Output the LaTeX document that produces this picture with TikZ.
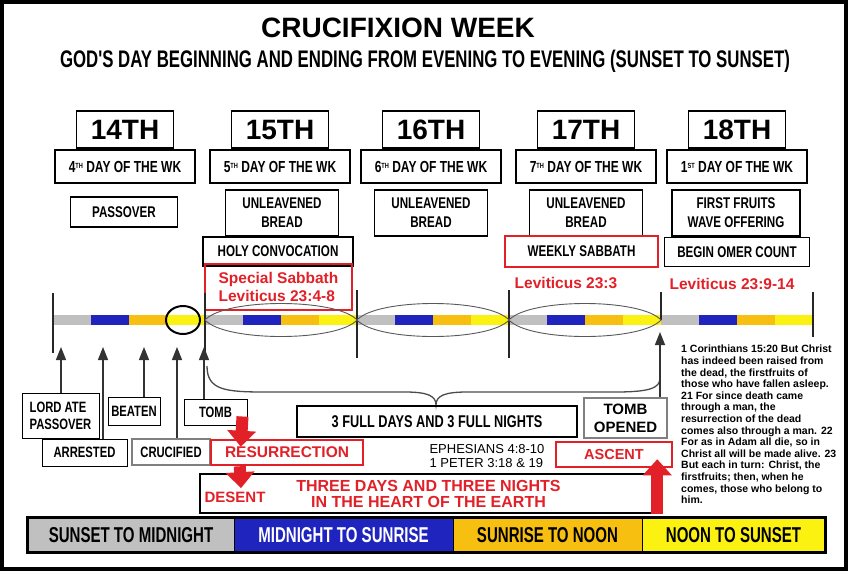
\documentclass[tikz,border=0pt]{standalone}
\usepackage{fontspec}
\setmainfont{Liberation Sans}
\newfontfamily\condfont[FakeStretch=0.75]{Liberation Sans}
\newfontfamily\narrowfont[FakeStretch=0.7]{Liberation Sans}
\usetikzlibrary{arrows.meta}

\definecolor{nightgray}{RGB}{192,192,192}
\definecolor{nightblue}{RGB}{32,36,190}
\definecolor{dawnorange}{RGB}{247,192,16}
\definecolor{noonyellow}{RGB}{252,242,18}
\definecolor{verse}{RGB}{226,32,40}

\newcommand\ordsfx[1]{\raisebox{4pt}{\fontsize{7.5}{7.5}\selectfont #1}}

\tikzset{
  daynum/.style={draw, line width=1.2pt, minimum width=97pt, minimum height=37pt, inner sep=0pt, font=\bfseries\fontsize{28}{28}\selectfont},
  wkday/.style={draw, line width=1.2pt, minimum width=140pt, minimum height=33pt, inner sep=0pt, font=\condfont\bfseries\fontsize{16}{16}\selectfont},
  feast/.style={draw, line width=1.2pt, align=center, inner sep=0pt, font=\condfont\bfseries\fontsize{15.5}{19}\selectfont},
  eventbox/.style={draw, line width=1pt, align=left, inner sep=0pt, font=\condfont\bfseries\fontsize{15}{17}\selectfont},
  redbox/.style={draw=verse, line width=2.5pt, inner sep=0pt},
  redtext/.style={text=verse, font=\bfseries\fontsize{15.5}{18}\selectfont},
  pointer/.style={draw=black!80, line width=1.4pt, -{Triangle[length=13pt,width=10pt]}},
  redarrow/.style={draw=verse, line width=12pt, -{Triangle[length=16pt,width=28pt]}},
  lens/.style={draw=black!65, line width=0.9pt},
  daytick/.style={draw=black!85, line width=1.8pt},
  legendkey/.style={draw, line width=1pt, minimum height=34pt, inner sep=0pt, font=\narrowfont\bfseries\fontsize{21.5}{21.5}\selectfont}
}

\begin{document}
\begin{tikzpicture}[x=1pt,y=-1pt]
  \useasboundingbox (0,0) rectangle (848,571);
  \fill[white] (0,0) rectangle (848,571);
  \draw[line width=4pt] (2,2) rectangle (846,569);
  % titles
  \node[font=\bfseries\fontsize{28}{28}\selectfont] (title) at (398,28) {CRUCIFIXION WEEK};
  \node[font=\narrowfont\bfseries\fontsize{24}{24}\selectfont] (subtitle) at (425,61)
    {GOD'S DAY BEGINNING AND ENDING FROM EVENING TO EVENING (SUNSET TO SUNSET)};
  % day headers
  \foreach \d/\x/\n/\sfx in {14/125/4/TH, 15/280/5/TH, 16/431/6/TH, 17/586/7/TH, 18/737/1/ST}{
    \node[daynum] (num\d) at (\x,129.5) {\d TH};
    \node[wkday] (wk\d) at (\x,166.5) {\n\ordsfx{\sfx} DAY OF THE WK};
  }
  \node[feast, minimum width=107pt, minimum height=30pt] (pass14) at (124,212) {PASSOVER};
  \foreach \d/\x in {15/282,16/431,17/586}
    \node[feast, minimum width=113pt, minimum height=46pt] (bread\d) at (\x,213) {UNLEAVENED\\BREAD};
  \node[feast, minimum width=128pt, minimum height=46pt] (fruit18) at (736,213) {FIRST FRUITS\\WAVE OFFERING};
  \node[feast, minimum width=150pt, minimum height=29pt] (holy15) at (278,251.5) {HOLY CONVOCATION};
  \node[feast, redbox, minimum width=153pt, minimum height=31pt] (sabb17) at (581.5,251.5) {WEEKLY SABBATH};
  \node[feast, minimum width=145pt, minimum height=29pt] (omer18) at (737,252) {BEGIN OMER COUNT};
  % verses
  \node[redbox, redtext, align=left, minimum width=147pt, minimum height=46pt] (lev48) at (278.5,287) {Special Sabbath\\Leviticus 23:4-8};
  \node[redtext] (lev3) at (566,283) {Leviticus 23:3};
  \node[redtext] (lev914) at (732,284) {Leviticus 23:9-14};
  % timeline
  \foreach \d in {0,...,4}
    \foreach \q/\c in {0/nightgray,1/nightblue,2/dawnorange,3/noonyellow}
      \fill[\c] ({53+152*\d+38*\q},315) rectangle ++(38,10);
  \foreach \x/\ya/\yb in {53/293/353,205/293/353,357/290/358,509/290/358,661/292/320,813/292/337}
    \draw[daytick] (\x,\ya) -- (\x,\yb);
  \foreach \d in {1,2,3}
    \draw[lens] ({53+152*\d},320) .. controls ({73+152*\d},298) and ({185+152*\d},298) .. ({205+152*\d},320)
      .. controls ({185+152*\d},342) and ({73+152*\d},342) .. cycle;
  \draw[line width=2pt] (183,320) ellipse [x radius=17, y radius=14];
  % events
  \coordinate (tLord) at (61,347);
  \coordinate (tArr) at (103,347);
  \coordinate (tBeat) at (144,347);
  \coordinate (tCruc) at (177,347);
  \coordinate (tTomb) at (204,347);
  \coordinate (tOpen) at (660,332);
  \node[eventbox, minimum width=77pt, minimum height=45pt] (lord) at (60.5,415.5) {LORD ATE\\PASSOVER};
  \node[eventbox, minimum width=85pt, minimum height=27pt] (arrest) at (84.5,452.5) {ARRESTED};
  \node[eventbox, minimum width=52pt, minimum height=28pt] (beaten) at (134,411) {BEATEN};
  \node[eventbox, draw=gray, line width=2.5pt, minimum width=78pt, minimum height=26pt] (cruc) at (171,452) {CRUCIFIED};
  \node[eventbox, minimum width=63pt, minimum height=26pt] (tomb) at (215.5,412) {TOMB};
  \foreach \b/\t in {lord/tLord, arrest/tArr, beaten/tBeat, cruc/tCruc, tomb/tTomb}
    \draw[pointer] (\b.north -| \t) -- (\t);
  % brace over the three days
  \draw[black!70, line width=1.3pt] (207,366) .. controls (207,390) and (225,392) .. (265,392) -- (405,392)
    .. controls (428,392) and (436,396) .. (436,405) .. controls (436,396) and (444,392) .. (467,392) -- (615,392)
    .. controls (650,392) and (660,388) .. (660,378);
  \node[draw, line width=2pt, minimum width=280pt, minimum height=31pt, font=\condfont\bfseries\fontsize{17}{17}\selectfont] (full) at (437,421.5) {3 FULL DAYS AND 3 FULL NIGHTS};
  \node[draw=gray, line width=2.5pt, minimum width=83pt, minimum height=40pt, align=center, font=\bfseries\fontsize{15}{18}\selectfont] (opened) at (625.5,418) {TOMB\\OPENED};
  \draw[pointer] (opened.north -| tOpen) -- (tOpen);
  \node[redbox, redtext, minimum width=152pt, minimum height=25pt] (resur) at (287,452.5) {RESURRECTION};
  \node[font=\fontsize{13}{14.5}\selectfont, align=left] (ephes) at (487,456) {EPHESIANS 4:8-10\\1 PETER 3:18 \& 19};
  \node[draw, line width=2.5pt, minimum width=457pt, minimum height=39pt, redtext, align=center, font=\bfseries\fontsize{16}{16}\selectfont] (earth) at (428.5,493.5) {THREE DAYS AND THREE NIGHTS\\IN THE HEART OF THE EARTH};
  \node[redtext, font=\bfseries\fontsize{15}{15}\selectfont] (desent) at (235,497) {DESENT};
  \node[redbox, redtext, minimum width=116pt, minimum height=25pt, font=\bfseries\fontsize{14.5}{14.5}\selectfont] (ascent) at (614,454.5) {ASCENT};
  \draw[redarrow] ([xshift=27pt,yshift=9pt]tomb.south) -- ([xshift=31pt,yshift=-8pt]resur.north west);
  \draw[redarrow] ([xshift=30pt]resur.south west) -- ([xshift=6pt]desent.north);
  \draw[redarrow] ([xshift=-1pt]earth.south east) -- ([xshift=-16pt,yshift=9pt]ascent.south east);
  % scripture
  \node[anchor=north west, inner sep=0pt, align=left, font=\bfseries\fontsize{10.5}{11.6}\selectfont] (cor) at (681,345)
    {1 Corinthians 15:20 But Christ\\has indeed been raised from\\the dead, the firstfruits of\\those who have fallen asleep.\\21 For since death came\\through a man, the\\resurrection of the dead\\comes also through a man. 22\\For as in Adam all die, so in\\Christ all will be made alive. 23\\But each in turn: Christ, the\\firstfruits; then, when he\\comes, those who belong to\\him.};
  % legend
  \foreach \i/\x/\w/\c/\tc/\txt in {1/131/206/nightgray/black/SUNSET TO MIDNIGHT, 2/343.5/219/nightblue/white/MIDNIGHT TO SUNRISE,
      3/547.5/189/dawnorange/black/SUNRISE TO NOON, 4/733.5/183/noonyellow/black/NOON TO SUNSET}
    \node[legendkey, fill=\c, text=\tc, minimum width=\w] (key\i) at (\x,535) {\txt};
  \draw[line width=3pt] (key1.north west) rectangle (key4.south east);
\end{tikzpicture}
\end{document}
